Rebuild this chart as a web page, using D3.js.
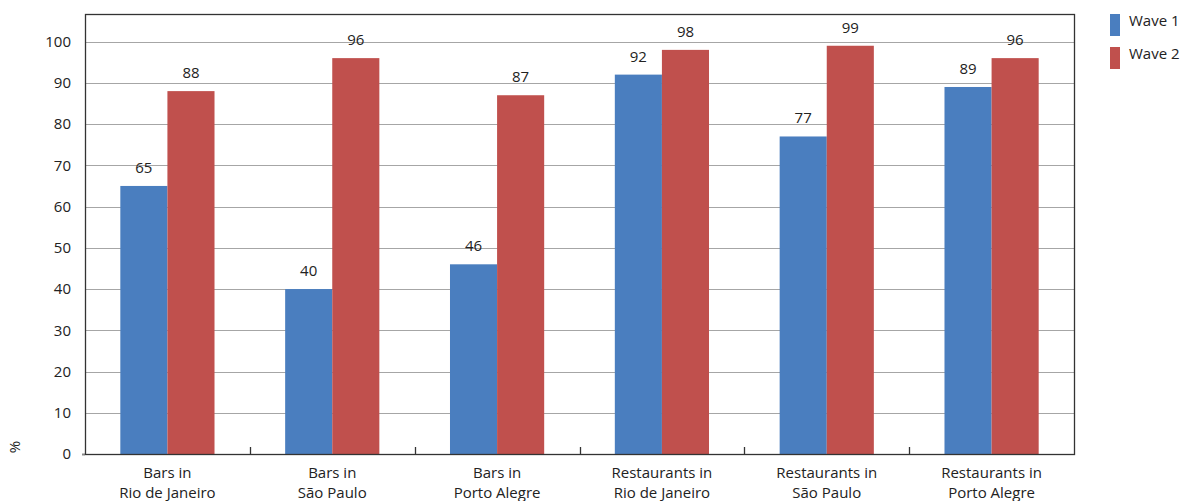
<!DOCTYPE html>
<html>
<head>
<meta charset="utf-8">
<script src="https://cdn.jsdelivr.net/npm/d3@7"></script>
<style>
  html, body { margin: 0; padding: 0; background: #fff; }
  svg text { font-family: "Open Sans", "Noto Sans", sans-serif; fill: #222; }
</style>
</head>
<body>
<svg id="chart" width="1183" height="501"></svg>
<script>
// Categories (two-line labels) and series values
const categories = [
  ["Bars in", "Rio de Janeiro"],
  ["Bars in", "São Paulo"],
  ["Bars in", "Porto Alegre"],
  ["Restaurants in", "Rio de Janeiro"],
  ["Restaurants in", "São Paulo"],
  ["Restaurants in", "Porto Alegre"]
];
const seriesNames = ["Wave 1", "Wave 2"];
const wave1 = [65, 40, 46, 92, 77, 89];
const wave2 = [88, 96, 87, 98, 99, 96];
const yTicks = [0, 10, 20, 30, 40, 50, 60, 70, 80, 90, 100];
const colors = ["#4a7ebf", "#c0504d"];

const svg = d3.select("#chart");
const plot = { left: 85, right: 1074, top: 14, bottom: 454 };
const fontSize = "15px";

const x0 = d3.scaleBand()
  .domain(d3.range(categories.length))
  .range([plot.left, plot.right])
  .paddingInner(0)
  .paddingOuter(0);

const x1 = d3.scaleBand()
  .domain(seriesNames)
  .range([0, x0.bandwidth()])
  .paddingInner(0)
  .paddingOuter(0.75);

const y = d3.scaleLinear()
  .domain([0, 106.7])
  .range([plot.bottom, plot.top]);

// Horizontal gridlines
svg.append("g")
  .selectAll("line")
  .data(yTicks.filter(d => d > 0))
  .join("line")
  .attr("x1", plot.left)
  .attr("x2", plot.right)
  .attr("y1", d => Math.round(y(d)) + 0.5)
  .attr("y2", d => Math.round(y(d)) + 0.5)
  .attr("stroke", "#a6a6a6")
  .attr("stroke-width", 1.2);

// Y axis labels
const yAxis = d3.axisLeft(y).tickValues(yTicks).tickSize(0).tickPadding(14);
const gy = svg.append("g")
  .attr("transform", `translate(${plot.left},0)`)
  .call(yAxis);
gy.select(".domain").remove();
gy.selectAll("text")
  .style("font-size", fontSize)
  .attr("fill", "#222")
  .attr("font-family", "'Open Sans', sans-serif");

// Small grey tick at the origin
svg.append("line")
  .attr("x1", plot.left - 3).attr("x2", plot.left)
  .attr("y1", plot.bottom + 0.5).attr("y2", plot.bottom + 0.5)
  .attr("stroke", "#888").attr("stroke-width", 2);

// Bars
const data = categories.map((c, i) => ({ i, values: [wave1[i], wave2[i]] }));
const groups = svg.append("g")
  .selectAll("g")
  .data(data)
  .join("g")
  .attr("transform", d => `translate(${x0(d.i)},0)`);

groups.selectAll("rect")
  .data(d => d.values.map((v, k) => ({ key: seriesNames[k], v, k })))
  .join("rect")
  .attr("x", d => x1(d.key))
  .attr("width", x1.bandwidth())
  .attr("y", d => y(d.v))
  .attr("height", d => y(0) - y(d.v))
  .attr("fill", d => colors[d.k]);

// Value labels
groups.selectAll("text.val")
  .data(d => d.values.map((v, k) => ({ key: seriesNames[k], v, k })))
  .join("text")
  .attr("class", "val")
  .attr("x", d => x1(d.key) + x1.bandwidth() / 2)
  .attr("y", d => y(d.v) - 13)
  .attr("text-anchor", "middle")
  .style("font-size", fontSize)
  .text(d => d.v);

// Plot frame
svg.append("rect")
  .attr("x", plot.left + 0.5)
  .attr("y", plot.top + 0.5)
  .attr("width", plot.right - plot.left)
  .attr("height", plot.bottom - plot.top)
  .attr("fill", "none")
  .attr("stroke", "#333")
  .attr("stroke-width", 1.3);

// Category separator ticks on the baseline
svg.append("g")
  .selectAll("line")
  .data(d3.range(1, categories.length))
  .join("line")
  .attr("x1", d => Math.round(x0(d)) + 0.5)
  .attr("x2", d => Math.round(x0(d)) + 0.5)
  .attr("y1", plot.bottom)
  .attr("y2", plot.bottom - 7)
  .attr("stroke", "#333")
  .attr("stroke-width", 1.3);

// Category labels
const cat = svg.append("g")
  .selectAll("text")
  .data(categories)
  .join("text")
  .attr("x", (d, i) => x0(i) + x0.bandwidth() / 2)
  .attr("y", 478)
  .attr("text-anchor", "middle")
  .style("font-size", fontSize);
cat.selectAll("tspan")
  .data(d => d)
  .join("tspan")
  .attr("x", function () { return this.parentNode.getAttribute("x"); })
  .attr("dy", (d, j) => j === 0 ? 0 : 20)
  .text(d => d);

// Y axis title
svg.append("text")
  .attr("transform", "translate(20,447) rotate(-90)")
  .attr("text-anchor", "middle")
  .style("font-size", fontSize)
  .text("%");

// Legend
const legend = svg.append("g")
  .selectAll("g")
  .data(seriesNames)
  .join("g")
  .attr("transform", (d, i) => `translate(1110,${14 + i * 33})`);
legend.append("rect")
  .attr("width", 10).attr("height", 22)
  .attr("fill", (d, i) => colors[i]);
legend.append("text")
  .attr("x", 19).attr("y", 12)
  .style("font-size", fontSize)
  .text(d => d);
</script>
</body>
</html>
